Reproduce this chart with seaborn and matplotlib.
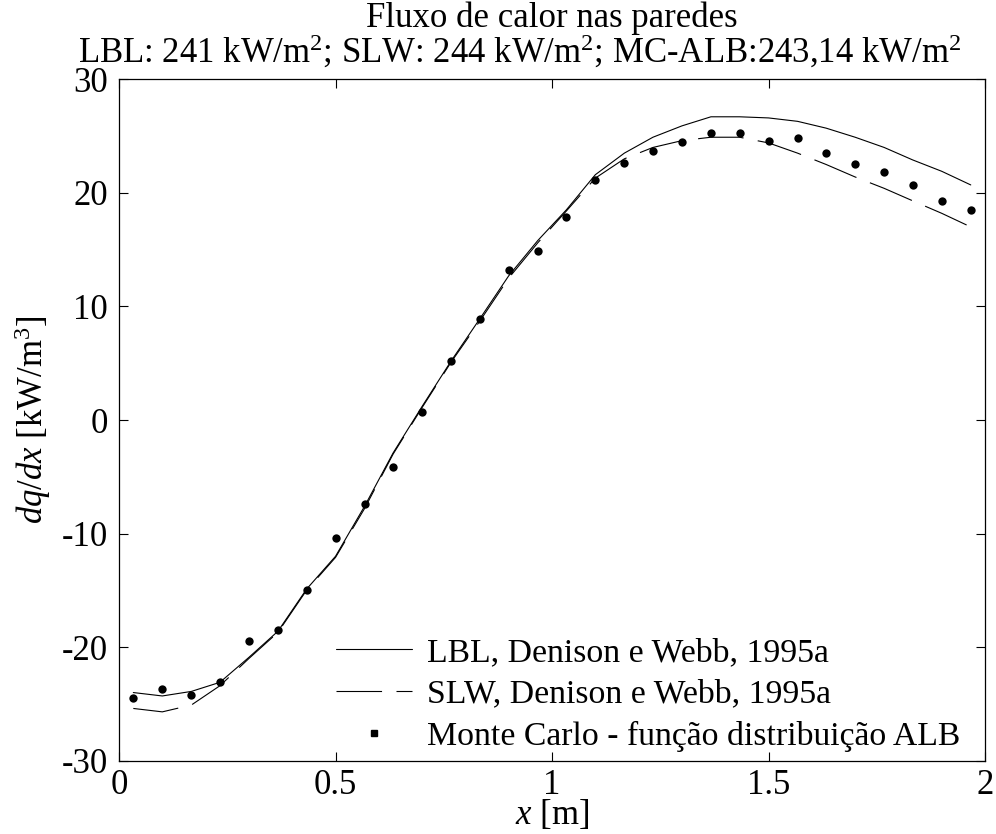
import numpy as np
import pandas as pd
import matplotlib
matplotlib.use("Agg")
import matplotlib.pyplot as plt
from matplotlib.lines import Line2D
import seaborn as sns

# Position along the wall [m]
x_pos = [0.033, 0.100, 0.167, 0.233, 0.300, 0.367, 0.433, 0.500, 0.567, 0.633,
         0.700, 0.767, 0.833, 0.900, 0.967, 1.033, 1.100, 1.167, 1.233, 1.300,
         1.367, 1.433, 1.500, 1.567, 1.633, 1.700, 1.767, 1.833, 1.900, 1.967]

# Line-by-line reference solution [kW/m^3]
lbl = [-24.0, -24.3, -23.9, -23.1, -20.9, -18.6, -14.9, -12.0, -7.6, -2.9,
       1.2, 5.2, 8.9, 12.7, 15.8, 18.5, 21.6, 23.5, 24.9, 25.9,
       26.7, 26.7, 26.6, 26.3, 25.7, 24.9, 24.0, 22.9, 21.9, 20.7]

# SLW model [kW/m^3]
slw = [-25.4, -25.7, -25.1, -23.4, -21.0, -18.7, -15.0, -12.1, -7.8, -3.0,
       1.1, 5.1, 8.7, 12.5, 15.6, 18.4, 21.3, 23.0, 24.0, 24.6,
       24.9, 24.9, 24.4, 23.5, 22.5, 21.4, 20.4, 19.3, 18.2, 17.0]

# Monte Carlo with ALB distribution function [kW/m^3]
mc_alb = [-24.5, -23.7, -24.2, -23.1, -19.5, -18.5, -15.0, -10.4, -7.4, -4.1,
          0.7, 5.2, 8.9, 13.2, 14.9, 17.9, 21.1, 22.6, 23.7, 24.5,
          25.3, 25.3, 24.6, 24.8, 23.5, 22.5, 21.8, 20.7, 19.3, 18.45]

series_labels = ["LBL, Denison e Webb, 1995a",
                 "SLW, Denison e Webb, 1995a",
                 "Monte Carlo - função distribuição ALB"]

title_main = "Fluxo de calor nas paredes"
title_sub = r"LBL: 241 kW/m$^2$; SLW: 244 kW/m$^2$; MC-ALB:243,14 kW/m$^2$"

x_ticks = [0, 0.5, 1, 1.5, 2]
x_tick_labels = ["0", "0.5", "1", "1.5", "2"]
y_ticks = [-30, -20, -10, 0, 10, 20, 30]
y_tick_labels = ["-30", "-20", "-10", "0", "10", "20", "30"]

sns.set_theme(style="white")
plt.rcParams["font.family"] = ["Liberation Serif", "DejaVu Serif"]
plt.rcParams["mathtext.fontset"] = "custom"
plt.rcParams["mathtext.rm"] = "Liberation Serif"
plt.rcParams["mathtext.it"] = "Liberation Serif:italic"
plt.rcParams["mathtext.bf"] = "Liberation Serif:bold"
plt.rcParams["text.color"] = "black"
plt.rcParams["axes.labelcolor"] = "black"

FS = 25

df = pd.DataFrame({"x": x_pos, "lbl": lbl, "slw": slw, "mc": mc_alb})

fig = plt.figure(figsize=(9.96, 8.34), dpi=100)
ax = fig.add_axes([0.1195, 0.0879, 0.8695, 0.817])

LW = 0.8
DASH = (41, 13)

sns.lineplot(data=df, x="x", y="lbl", ax=ax, color="black", linewidth=LW,
             estimator=None, sort=False, legend=False)
sns.lineplot(data=df, x="x", y="slw", ax=ax, color="black", linewidth=LW,
             estimator=None, sort=False, legend=False, linestyle=(0, DASH))
sns.scatterplot(data=df, x="x", y="mc", ax=ax, color="black", s=36,
                linewidth=0, legend=False, zorder=3)

ax.set_xlim(0, 2)
ax.set_ylim(-30, 30)
ax.set_xticks(x_ticks)
ax.set_xticklabels(x_tick_labels)
ax.set_yticks(y_ticks)
ax.set_yticklabels(y_tick_labels)
ax.tick_params(direction="in", length=6.5, width=0.8, labelsize=FS,
               top=True, right=True, bottom=True, left=True, pad=6,
               colors="black")
ax.tick_params(axis="y", pad=8)
for sp in ax.spines.values():
    sp.set_visible(True)
    sp.set_color("black")
    sp.set_linewidth(0.9)
ax.grid(False)

ax.set_xlabel(r"$x$ [m]", fontsize=FS, labelpad=-3, color="black")
ax.set_ylabel(r"$dq/dx$ [kW/m$^3$]", fontsize=FS, labelpad=6, color="black")

# Two-line heading above the axes
fig.text(552 / 996, 1 - 27 / 834, title_main, fontsize=FS,
         ha="center", va="baseline", color="black")
fig.text(520 / 996, 1 - 63 / 834, title_sub, fontsize=FS,
         ha="center", va="baseline", color="black")

handles = [
    Line2D([], [], color="black", linewidth=LW),
    Line2D([], [], color="black", linewidth=LW, linestyle=(0, DASH)),
    Line2D([], [], color="black", linestyle="none", marker="s", markersize=4),
]
ax.legend(handles, series_labels, loc="lower right",
          bbox_to_anchor=(0.975, 0.008), frameon=False, fontsize=24.3,
          labelcolor="black",
          handlelength=2.25, handletextpad=0.45, labelspacing=0.33,
          borderpad=0.1, borderaxespad=0.0)

fig.savefig("out.png", dpi=100)
